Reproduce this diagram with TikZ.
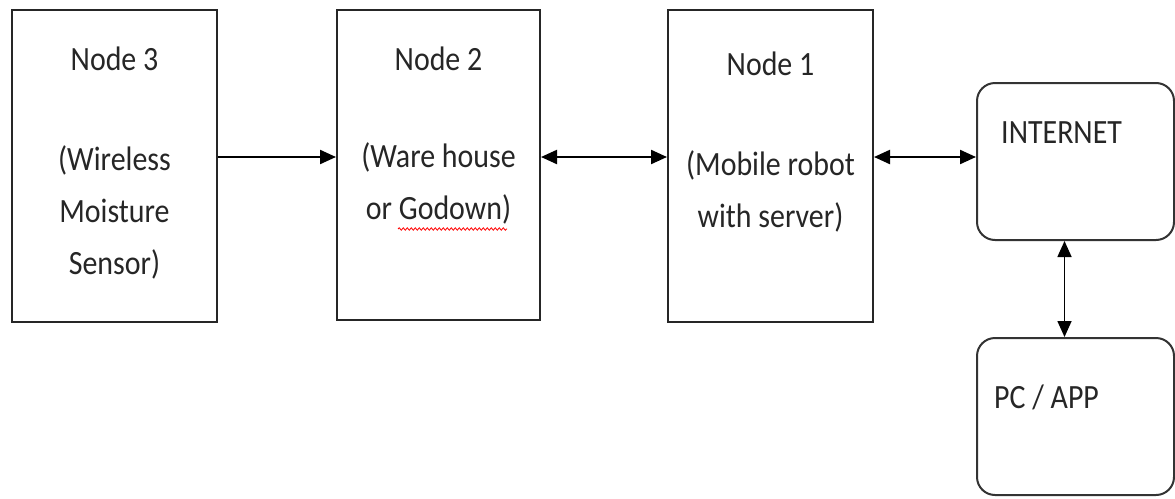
\documentclass[tikz,border=0pt]{standalone}
\usepackage{fontspec}
\setmainfont[FakeStretch=0.88]{Carlito}
\usetikzlibrary{arrows.meta,positioning,decorations.pathmorphing}
\tikzset{
    %Define standard arrow tip
    >={Triangle[length=16pt,width=14pt]},
    %Define style for boxes
    block/.style={
           rectangle,
           draw=black!85, line width=2pt,
           minimum width=205pt,
           minimum height=312pt,
           inner sep=0pt,
           },
    netbox/.style={
           rectangle,
           rounded corners=18pt,
           draw=black!80, line width=2pt,
           minimum width=197pt,
           minimum height=157pt,
           inner sep=0pt,
           },
    boxtext/.style={
           font=\fontsize{34}{52}\selectfont,
           text=black!85,
           align=center,
           inner sep=0pt,
           },
    % Define arrow style
    pil/.style={
           <->,
           line width=2.2pt,},
}
\begin{document}
\begin{tikzpicture}[x=1pt,y=-1pt]
\useasboundingbox (0,0) rectangle (1175,498);
 %boxes
\node[block](n3) at (114.5,166){};
\node[block, minimum width=203pt, minimum height=310pt](n2) at (438.5,165){};
\node[block](n1) at (770.5,166){};
\node[netbox](inet) at (1075.5,161.5){};
\node[netbox](pc) at (1075.5,416.5){};
 %texts
\node[boxtext, below=38pt of n3.north](t3){Node 3\\[48pt](Wireless\\Moisture\\Sensor)};
\node[boxtext, below=38pt of n2.north](t2){Node 2\\[45pt](Ware house\\or Godown)};
\node[boxtext, below=43pt of n1.north](t1){Node 1\\[48pt](Mobile robot\\with server)};
\node[boxtext, below right=39pt and 25pt of inet.north west](ti){INTERNET};
\node[boxtext, below right=48pt and 18pt of pc.north west](tp){PC / APP};
\draw[red, line width=0.8pt, decorate, decoration={snake, amplitude=1.2pt, segment length=4pt}]
    (398,229) -- (507,229);
 %arrows
\draw[->, line width=2.2pt] ([yshift=9pt]n3.east) -- ([yshift=9pt]n3.east -| n2.west);
\draw[pil] ([yshift=8pt]n2.east) -- ([yshift=8pt]n2.east -| n1.west);
\draw[pil] ([yshift=9pt]n1.east) -- ([yshift=9pt]n1.east -| inet.west);
\draw[pil, line width=1.6pt] ([xshift=-11pt]inet.south) -- ([xshift=-11pt]pc.north);
\end{tikzpicture}
\end{document}
